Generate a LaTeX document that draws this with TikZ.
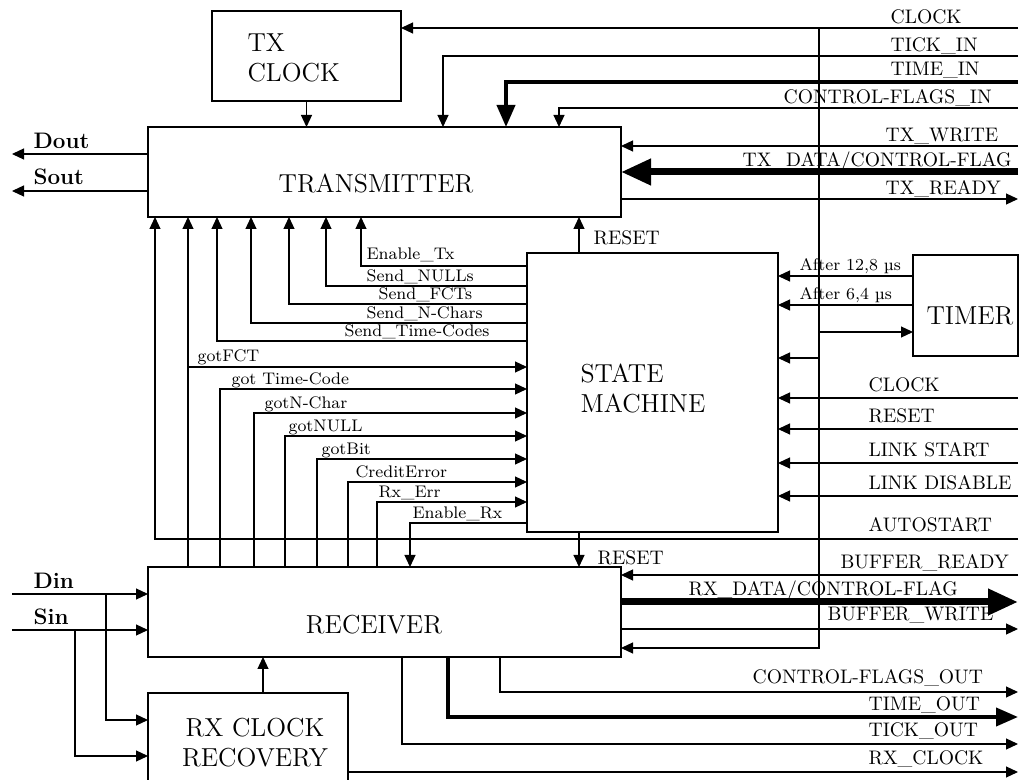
\documentclass[tikz,border=0pt]{standalone}
\usepackage{tikz}
\usetikzlibrary{arrows.meta,calc,positioning}

\begin{document}
\begin{tikzpicture}[
    x=0.5pt, y=-0.5pt,
    >={Triangle[length=6pt,width=5.5pt]},
    line width=0.6pt,
    arr/.style={->},
    bus/.style={-{Triangle[length=15pt,width=12.5pt]}, line width=3.5pt},
    tbus/.style={-{Triangle[length=11pt,width=9pt]}, line width=2pt},
    block/.style={draw, line width=0.6pt, inner sep=0pt, outer sep=0pt, anchor=north west},
    btext/.style={font=\fontsize{13}{15}\selectfont, align=left, inner sep=0pt},
    sig/.style={font=\fontsize{9.8}{12}\selectfont, anchor=base west, inner sep=0pt},
    ctl/.style={font=\fontsize{8.4}{10}\selectfont, anchor=base west, inner sep=0pt},
    pin/.style={font=\fontsize{11.2}{13}\selectfont\bfseries, anchor=base west, inner sep=0pt}
]
\useasboundingbox (0,0) rectangle (1019,780);
\clip (0,0) rectangle (1019,780);

% ---- edge x-positions ----
\def\xR{1018}
\def\xL{12}

% ===== BLOCKS =====
\node[block, minimum width=94.5pt, minimum height=45pt]   (txclk) at (212,11) {};
\node[block, minimum width=236.5pt, minimum height=45pt]  (tx)    at (148,127) {};
\node[block, minimum width=125.5pt, minimum height=139.5pt] (sm)  at (527,253) {};
\node[block, minimum width=52.5pt, minimum height=50.5pt] (timer) at (913,255) {};
\node[block, minimum width=236.5pt, minimum height=45pt]  (rx)    at (148,567) {};
\node[block, minimum width=100pt, minimum height=50pt]    (rxclk) at (148,693) {};

\node[btext, anchor=west] (txclkT) at (247,58)  {TX\\CLOCK};
\node[btext]              (txT)    at (376,183) {TRANSMITTER};
\node[btext, anchor=west] (smT)    at (580,388) {STATE\\MACHINE};
\node[btext]              (timerT) at (970,316) {TIMER};
\node[btext]              (rxT)    at (374,625) {RECEIVER};
\node[btext, align=center] (rxclkT) at (255,743) {RX CLOCK\\RECOVERY};

% ===== EXTERNAL ENDS =====
\coordinate (clkin)    at (\xR,28);
\coordinate (tickin)   at (\xR,56);
\coordinate (timein)   at (\xR,82);
\coordinate (cfin)     at (\xR,108);
\coordinate (txwr)     at (\xR,146);
\coordinate (txdata)   at (\xR,172);
\coordinate (txrdy)    at (\xR,199);
\coordinate (smclk)    at (\xR,398);
\coordinate (smrst)    at (\xR,429);
\coordinate (lnkstart) at (\xR,463);
\coordinate (lnkdis)   at (\xR,496);
\coordinate (autost)   at (\xR,539);
\coordinate (bufrdy)   at (\xR,575);
\coordinate (rxdata)   at (\xR,602);
\coordinate (bufwr)    at (\xR,629);
\coordinate (cfout)    at (\xR,692);
\coordinate (timeout)  at (\xR,717);
\coordinate (tickout)  at (\xR,744);
\coordinate (rxclkout) at (\xR,772);
\coordinate (dout) at (\xL,154);
\coordinate (sout) at (\xL,191);
\coordinate (din)  at (\xL,594);
\coordinate (sin)  at (\xL,630);
\coordinate (ctap) at (819,28);
\coordinate (fct)  at (188,367);

% ===== TRANSMITTER SIDE =====
\draw[arr] (clkin) -- (clkin -| txclk.east);
\draw[arr] (tickin) -| (tx.north -| 443,0);
\draw[tbus] (timein) -| (tx.north -| 506,0);
\draw[arr] (cfin) -| (tx.north -| 559,0);
\draw[arr] (txwr) -- (txwr -| tx.east);
\draw[bus] (txdata) -- (txdata -| tx.east);
\draw[arr] (tx.east |- txrdy) -- (txrdy);
\draw[arr] (txclk.south) -- (txclk.south |- tx.north);
\draw[arr] (tx.west |- dout) -- (dout);
\draw[arr] (tx.west |- sout) -- (sout);

% clock distribution
\draw[arr] (ctap) |- (rx.east |- 0,648);
\draw[arr] (ctap |- 0,332) -- (timer.west |- 0,332);
\draw[arr] (ctap |- 0,358) -- (sm.east |- 0,358);

% ===== STATE MACHINE =====
\draw[arr] (sm.north -| 579,0) -- (tx.south -| 579,0);
\draw[arr] (sm.south -| 579,0) -- (rx.north -| 579,0);
\draw[arr] (timer.west |- 0,276) -- (sm.east |- 0,276);
\draw[arr] (timer.west |- 0,305) -- (sm.east |- 0,305);
\foreach \c in {smclk,smrst,lnkstart,lnkdis}
    \draw[arr] (\c) -- (\c -| sm.east);
\draw[arr] (autost) -| (tx.south -| 155,0);

% commands to the transmitter
\foreach \y/\x in {266/361, 286/326, 304/289, 323/251, 341/217}
    \draw[arr] (sm.west |- 0,\y) -| (tx.south -| \x,0);

% status from the receiver
\draw[arr] (rx.north -| fct) -- (tx.south -| fct);
\draw[arr] (fct) -- (fct -| sm.west);
\foreach \x/\y in {220/389, 254/413, 285/436, 317/459, 348/482, 377/502}
    \draw[arr] (rx.north -| \x,0) |- (sm.west |- 0,\y);
\draw[arr] (sm.west |- 0,523) -| (rx.north -| 410,0);

% ===== RECEIVER SIDE =====
\draw[arr] (bufrdy) -- (bufrdy -| rx.east);
\draw[bus] (rx.east |- rxdata) -- (rxdata);
\draw[arr] (rx.east |- bufwr) -- (bufwr);
\draw[arr] (rx.south -| 500,0) |- (cfout);
\draw[tbus] (rx.south -| 448,0) |- (timeout);
\draw[arr] (rx.south -| 402,0) |- (tickout);
\draw[arr] (rxclk.east |- rxclkout) -- (rxclkout);
\draw[arr] (rxclk.north -| 263,0) -- (rx.south -| 263,0);
\draw[arr] (din) -- (din -| rx.west);
\draw[arr] (sin) -- (sin -| rx.west);
\draw[arr] (din -| 106,0) |- (rxclk.west |- 0,720);
\draw[arr] (sin -| 75,0) |- (rxclk.west |- 0,756);

% ===== LABELS =====
\node[sig] (lclk)    at (890,24)  {CLOCK};
\node[sig] (ltick)   at (890,52)  {TICK\_IN};
\node[sig] (ltime)   at (890,76)  {TIME\_IN};
\node[sig] (lcfin)   at (783,104) {CONTROL-FLAGS\_IN};
\node[sig] (ltxwr)   at (885,142) {TX\_WRITE};
\node[sig] (ltxdata) at (742,167) {TX\_DATA/CONTROL-FLAG};
\node[sig] (ltxrdy)  at (885,195) {TX\_READY};
\node[sig] (lrst1)   at (593,245) {RESET};
\node[sig] (lrst2)   at (597,565) {RESET};
\node[ctl] (lt128)   at (799,271) {After 12,8 µs};
\node[ctl] (lt64)    at (799,300) {After 6,4 µs};
\node[sig] (lsmclk)  at (868,392) {CLOCK};
\node[sig] (lsmrst)  at (868,423) {RESET};
\node[sig] (llstart) at (868,457) {LINK START};
\node[sig] (lldis)   at (868,490) {LINK DISABLE};
\node[sig] (lauto)   at (868,532) {AUTOSTART};
\node[sig] (lbufrdy) at (840,569) {BUFFER\_READY};
\node[sig] (lrxdata) at (688,596) {RX\_DATA/CONTROL-FLAG};
\node[sig] (lbufwr)  at (827,621) {BUFFER\_WRITE};
\node[sig] (lcfout)  at (752,684) {CONTROL-FLAGS\_OUT};
\node[sig] (ltmout)  at (868,711) {TIME\_OUT};
\node[sig] (ltkout)  at (868,737) {TICK\_OUT};
\node[sig] (lrxclk)  at (868,765) {RX\_CLOCK};

\node[pin] (ldout) at (33,149) {Dout};
\node[pin] (lsout) at (33,185) {Sout};
\node[pin] (ldin)  at (33,589) {Din};
\node[pin] (lsin)  at (33,625) {Sin};

\node[ctl] (lentx)  at (366,260) {Enable\_Tx};
\node[ctl] (lnull)  at (366,282) {Send\_NULLs};
\node[ctl] (lfcts)  at (378,300) {Send\_FCTs};
\node[ctl] (lnch)   at (366,319) {Send\_N-Chars};
\node[ctl] (ltc)    at (344,337) {Send\_Time-Codes};
\node[ctl] (lgfct)  at (197,362) {gotFCT};
\node[ctl] (lgtc)   at (231,385) {got Time-Code};
\node[ctl] (lgnch)  at (264,409) {gotN-Char};
\node[ctl] (lgnull) at (288,432) {gotNULL};
\node[ctl] (lgbit)  at (321,455) {gotBit};
\node[ctl] (lcerr)  at (355,478) {CreditError};
\node[ctl] (lrxerr) at (378,498) {Rx\_Err};
\node[ctl] (lenrx)  at (412,519) {Enable\_Rx};

\end{tikzpicture}
\end{document}
